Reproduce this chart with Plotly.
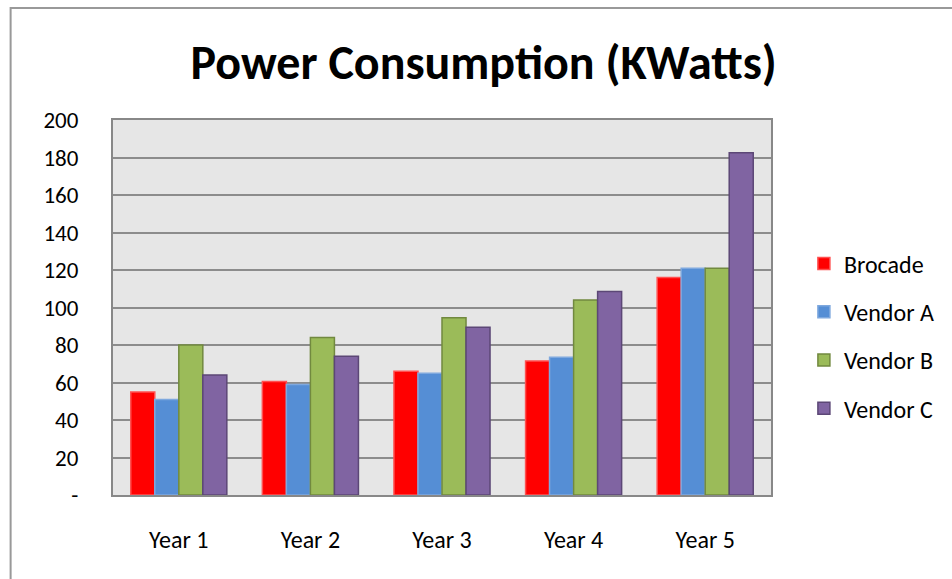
import plotly.graph_objects as go

# power consumption per vendor
years = ['Year 1', 'Year 2', 'Year 3', 'Year 4', 'Year 5']
brocade = [55, 60.5, 66, 71.5, 116]
vendor_a = [51, 59, 65, 73.5, 121]
vendor_b = [80, 84, 94.5, 104, 121]
vendor_c = [64, 74, 89.5, 108.5, 182.5]

y_ticks = [0, 20, 40, 60, 80, 100, 120, 140, 160, 180, 200]
y_tick_text = ['-', '20', '40', '60', '80', '100', '120', '140', '160', '180', '200']

font = 'Calibri, Carlito, Lato, sans-serif'

series = [
    ('Brocade', brocade, '#FF0000', '#FF5050'),
    ('Vendor A', vendor_a, '#558ED5', '#7EA8DE'),
    ('Vendor B', vendor_b, '#9BBB59', '#71893F'),
    ('Vendor C', vendor_c, '#8064A2', '#5C4776'),
]

fig = go.Figure()
for name, vals, fill, edge in series:
    fig.add_trace(
        go.Bar(
            x=years,
            y=vals,
            name=name,
            legendgroup=name,
            marker={"color": fill, "line": {"color": edge, "width": 1.5}}
        )
    )

fig.update_layout(
    {
        "width": 952,
        "height": 579,
        "barmode": "group",
        "bargap": 0.27,
        "bargroupgap": 0,
        "paper_bgcolor": "white",
        "plot_bgcolor": "#E6E6E6",
        "margin": {"l": 113, "r": 177, "t": 120, "b": 84},
        "font": {"family": font, "size": 25, "color": "black"},
        "title": {
            "text": "<b>Power Consumption (KWatts)</b>",
            "font": {"size": 48, "family": font},
            "x": 0.508,
            "xanchor": "center",
            "y": 0.893,
            "yanchor": "middle"
        },
        "xaxis": {
            "showline": True,
            "mirror": True,
            "linecolor": "#888888",
            "linewidth": 2,
            "ticks": "",
            "tickfont": {"size": 24},
            "ticklabelstandoff": 22
        },
        "yaxis": {
            "range": [0, 200],
            "tickvals": y_ticks,
            "ticktext": y_tick_text,
            "showgrid": True,
            "gridcolor": "#8C8C8C",
            "gridwidth": 2,
            "showline": True,
            "mirror": True,
            "linecolor": "#888888",
            "linewidth": 2,
            "zeroline": False,
            "ticks": "",
            "tickfont": {"size": 23},
            "ticklabelstandoff": 28
        },
        "legend": {
            "x": 1.05,
            "y": 0.424,
            "xanchor": "left",
            "yanchor": "middle",
            "font": {"size": 24},
            "tracegroupgap": 14,
            "itemwidth": 30,
            "bgcolor": "rgba(0,0,0,0)"
        },
        "shapes": [
            {
                "type": "rect",
                "xref": "paper",
                "yref": "paper",
                "x0": -0.1556,
                "x1": 1.5,
                "y0": -0.5,
                "y1": 1.2987,
                "line": {"color": "#999999", "width": 2},
                "layer": "below"
            }
        ]
    }
)

fig.write_html(
    "out.html",
    config={"displayModeBar": False},
    post_script="document.body.style.margin='0';"
)
